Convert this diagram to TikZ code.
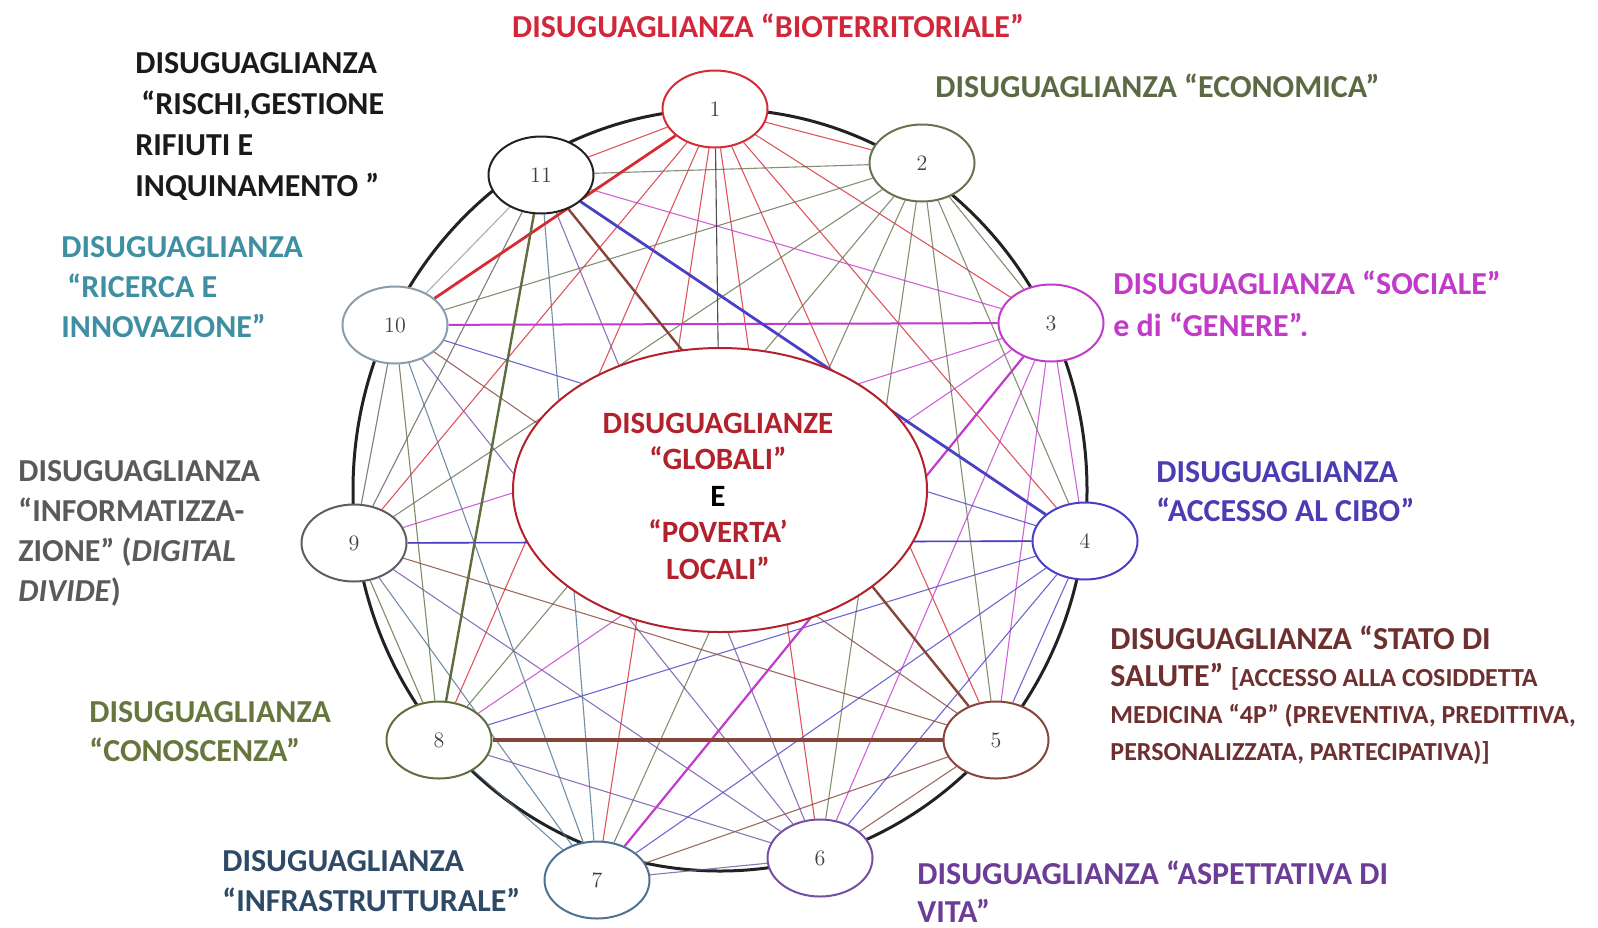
\documentclass[tikz,border=0pt]{standalone}
\usepackage{fontspec}
\setsansfont{Carlito}
\usetikzlibrary{shapes.geometric,backgrounds}

%colori dei nodi
\definecolor{col1}{HTML}{D62B35}
\definecolor{col2}{HTML}{66744F}
\definecolor{col3}{HTML}{C23CCC}
\definecolor{col4}{HTML}{4A40C6}
\definecolor{col5}{HTML}{86453A}
\definecolor{col6}{HTML}{7450A4}
\definecolor{col7}{HTML}{4F7290}
\definecolor{col8}{HTML}{5F6E3E}
\definecolor{col9}{HTML}{5E5E5E}
\definecolor{col10}{HTML}{8C9CA8}
\definecolor{col11}{HTML}{222222}
%colori delle etichette
\definecolor{tbio}{HTML}{D2263A}
\definecolor{teco}{HTML}{5C6A44}
\definecolor{tsoc}{HTML}{C23AC8}
\definecolor{tcibo}{HTML}{4B3CB4}
\definecolor{tsal}{HTML}{6E2F2F}
\definecolor{tvita}{HTML}{6C3D96}
\definecolor{tinfra}{HTML}{2E4A66}
\definecolor{tcon}{HTML}{67763C}
\definecolor{tinfo}{HTML}{5A5A5A}
\definecolor{tric}{HTML}{3F8FA2}
\definecolor{tris}{HTML}{1A1A1A}
\definecolor{tcen}{HTML}{B3222C}

\newcommand{\piccolo}{\fontsize{13}{18.5}\selectfont}

\tikzset{
  cerchio/.style={ellipse, draw, fill=white, line width=1pt, minimum width=52.5pt,
    minimum height=38.5pt, inner sep=0pt, text=black!75, font=\fontsize{11}{13}\selectfont},
  centrale/.style={ellipse, draw=tcen, fill=white, line width=1pt, minimum width=207pt,
    minimum height=142pt, inner sep=0pt},
  collegamento/.style={line width=0.55pt, draw opacity=0.8},
  etichetta/.style={anchor=base west, align=left, inner sep=0pt,
    font=\sffamily\bfseries\fontsize{16}{20}\selectfont},
}

\begin{document}
\begin{tikzpicture}[x=0.5pt, y=-0.5pt]
  \useasboundingbox (0,0) rectangle (1598,927);
  %nodi
  \node[cerchio, draw=col1] (n1) at (715,109) {1};
  \node[cerchio, draw=col2] (n2) at (922,163) {2};
  \node[cerchio, draw=col3] (n3) at (1051,323) {3};
  \node[cerchio, draw=col4] (n4) at (1085,541) {4};
  \node[cerchio, draw=col5] (n5) at (996,740) {5};
  \node[cerchio, draw=col6] (n6) at (820,858) {6};
  \node[cerchio, draw=col7] (n7) at (597,880) {7};
  \node[cerchio, draw=col8] (n8) at (439,740) {8};
  \node[cerchio, draw=col9] (n9) at (354,543) {9};
  \node[cerchio, draw=col10] (n10) at (395,325) {10};
  \node[cerchio, draw=col11] (n11) at (541,175) {11};
  \node[centrale] (centro) at (720,490) {};
  \node[anchor=base, align=center, inner sep=0pt, text=tcen,
    font=\sffamily\bfseries\fontsize{15.5}{18.25}\selectfont] (tcentro) at (718,579)
    {DISUGUAGLIANZE\\“GLOBALI”\\{\color{black}E}\\“POVERTA’\\LOCALI”};
  %collegamenti
  \begin{pgfonlayer}{background}
    \draw[line width=1.5pt, col11] (720,490) ellipse [x radius=367, y radius=381];
    \foreach \i in {1,...,10}{
      \pgfmathtruncatemacro{\primo}{\i+1}
      \foreach \j in {\primo,...,11}
        \draw[collegamento, draw=col\i] (n\i) -- (n\j);
    }
    \draw[collegamento, draw=col11] (n1) -- (centro);
    %collegamenti evidenziati
    \draw[line width=1.4pt, col1] (n1) -- (n10);
    \draw[line width=1pt, col3] (n3) -- (n10);
    \draw[line width=1.1pt, col3] (n3) -- (n7);
    \draw[line width=1.4pt, col4] (n4) -- (n11);
    \draw[line width=0.8pt, col4] (n4) -- (n9);
    \draw[line width=1.2pt, col5] (n5) -- (n11);
    \draw[line width=1.8pt, col5] (n5) -- (n8);
    \draw[line width=1.2pt, col8] (n8) -- (n11);
  \end{pgfonlayer}
  %etichette
  \node[etichetta, anchor=base, text=tbio] (lbio) at (768,37) {DISUGUAGLIANZA “BIOTERRITORIALE”};
  \node[etichetta, text=teco] (leco) at (935,97) {DISUGUAGLIANZA “ECONOMICA”};
  \node[etichetta, text=tsoc, font=\sffamily\bfseries\fontsize{16}{21}\selectfont] (lsoc) at (1113,336) {DISUGUAGLIANZA “SOCIALE”\\e di “GENERE”.};
  \node[etichetta, text=tcibo, font=\sffamily\bfseries\fontsize{16}{19.5}\selectfont] (lcibo) at (1156,521) {DISUGUAGLIANZA\\“ACCESSO AL CIBO”};
  \node[etichetta, text=tsal, font=\sffamily\bfseries\fontsize{16}{18.5}\selectfont] (lsal) at (1110,760) {DISUGUAGLIANZA “STATO DI\\SALUTE” {\piccolo [ACCESSO ALLA COSIDDETTA}\\{\piccolo MEDICINA “4P” (PREVENTIVA, PREDITTIVA,}\\{\piccolo PERSONALIZZATA, PARTECIPATIVA)]}};
  \node[etichetta, text=tvita, font=\sffamily\bfseries\fontsize{16}{19}\selectfont] (lvita) at (917,922) {DISUGUAGLIANZA “ASPETTATIVA DI\\VITA”};
  \node[etichetta, text=tinfra] (linfra) at (222,911) {DISUGUAGLIANZA\\“INFRASTRUTTURALE”};
  \node[etichetta, text=tcon, font=\sffamily\bfseries\fontsize{16}{19.5}\selectfont] (lcon) at (89,761) {DISUGUAGLIANZA\\“CONOSCENZA”};
  \node[etichetta, text=tinfo] (linfo) at (18,601) {DISUGUAGLIANZA\\“INFORMATIZZA-\\ZIONE” (\textit{DIGITAL}\\\textit{DIVIDE})};
  \node[etichetta, text=tric] (lric) at (61,337) {DISUGUAGLIANZA\\\hspace{3pt}“RICERCA E\\INNOVAZIONE”};
  \node[etichetta, text=tris, font=\sffamily\bfseries\fontsize{16}{20.5}\selectfont] (lris) at (135,196) {DISUGUAGLIANZA\\\hspace{3pt}“RISCHI,GESTIONE\\RIFIUTI E\\INQUINAMENTO ”};
\end{tikzpicture}
\end{document}
